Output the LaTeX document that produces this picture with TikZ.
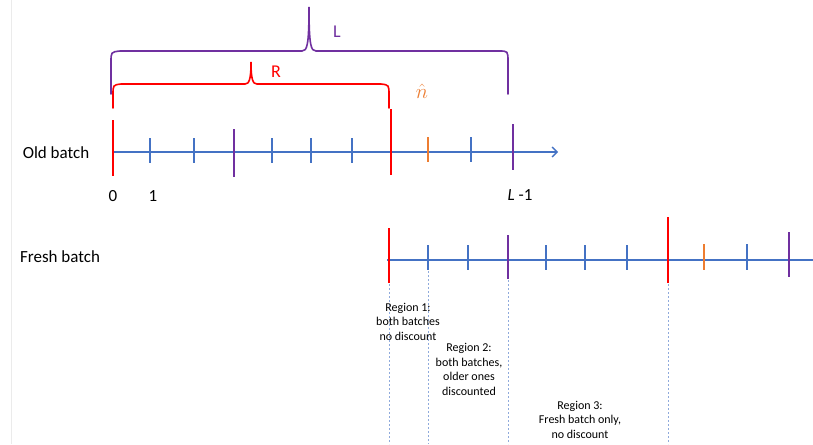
\documentclass[tikz,border=0pt]{standalone}
\usepackage{fontspec}
\setmainfont{Carlito}
\usetikzlibrary{arrows.meta}
\definecolor{oblue}{HTML}{4472C4}
\definecolor{ored}{HTML}{FF0000}
\definecolor{opurple}{HTML}{7030A0}
\definecolor{oorange}{HTML}{ED7D31}
\definecolor{odash}{HTML}{8FAADC}
\begin{document}
\begin{tikzpicture}[x=1pt,y=-1pt,
  axisline/.style={oblue,line width=1.3pt},
  tickline/.style={line width=1.3pt},
  bracepath/.style={line width=1.6pt,line cap=round},
  guide/.style={odash,line width=0.6pt,dash pattern=on 2pt off 2pt},
  rowlabel/.style={font=\fontsize{17}{20}\selectfont},
  numlabel/.style={font=\fontsize{17}{20}\selectfont},
  regionlabel/.style={align=center,font=\fontsize{12}{14.5}\selectfont,inner sep=0pt}]
\useasboundingbox (0,0) rectangle (813,444);
\fill[white] (0,0) rectangle (813,444);
\draw[black!8,line width=0.6pt] (11,0) -- (11,444);

% Row labels
\node[rowlabel] (oldlab) at (56,153) {Old batch};
\node[rowlabel] (freshlab) at (60,257) {Fresh batch};

% Old batch axis
\coordinate (ostart) at (113,152);
\coordinate (oend) at (558,152);
\draw[axisline,-{Straight Barb[length=5pt,width=10pt]}] (ostart) -- (oend);
\foreach \x/\t/\b/\c in {113/120/176/ored,150/138/163/oblue,194/138/163/oblue,234/129/177/opurple,272/138/163/oblue,311/138/163/oblue,352/138/163/oblue,391/109/175/ored,428/137/162/oorange,471/137/162/oblue,513/124/170/opurple}
  \draw[tickline,\c] (\x,\t) -- (\x,\b);

\node[numlabel] (n0) at (113,196) {0};
\node[numlabel] (n1) at (153,196) {1};
\node[numlabel] (nL) at (520,195) {\itshape L\upshape\ -1};

% Fresh batch axis
\coordinate (fstart) at (387,260);
\coordinate (fend) at (813,260);
\draw[axisline,line width=2pt] (fstart) -- (fend);
\foreach \x/\t/\b/\c in {389/228/283/ored,428/245/270/oblue,468/245/270/oblue,508/235/279/opurple,546/245/270/oblue,585/245/270/oblue,627/245/270/oblue,668/217/283/ored,704/244/270/oorange,747/244/270/oblue,789/232/277/opurple}
  \draw[tickline,\c] (\x,\t) -- (\x,\b);

% Guides
\foreach \x/\t in {389/284,428/271,508/280,668/284}
  \draw[guide] (\x,\t) -- (\x,444);

% Braces
\draw[bracepath,opurple] (111,94) -- (111,62) .. controls (111,52) .. (120,51)
  -- (302,51) .. controls (307,51) and (309,46) .. (309,7)
  .. controls (309,46) and (311,51) .. (316,51)
  -- (499,51) .. controls (508,51) .. (508,62) -- (508,94);
\node[opurple,font=\fontsize{18}{20}\selectfont] (Llab) at (337,32) {L};

\draw[bracepath,ored] (113,108) -- (113,95) .. controls (113,85) .. (121,84)
  -- (245,84) .. controls (249,84) and (251,80) .. (251,62)
  .. controls (251,80) and (253,84) .. (257,84)
  -- (381,84) .. controls (389,85) .. (389,95) -- (389,108);
\node[ored,font=\fontsize{18}{20}\selectfont] (Rlab) at (276,72) {R};

\node[oorange,font=\fontsize{21}{24}\selectfont] (nhat) at (422,91) {$\hat{n}$};

% Region labels
\node[regionlabel] (r1) at (408,321.5) {Region 1:\\both batches\\no discount};
\node[regionlabel] (r2) at (469,369.5) {Region 2:\\both batches,\\older ones\\discounted};
\node[regionlabel] (r3) at (580,419.5) {Region 3:\\Fresh batch only,\\no discount};
\end{tikzpicture}
\end{document}
